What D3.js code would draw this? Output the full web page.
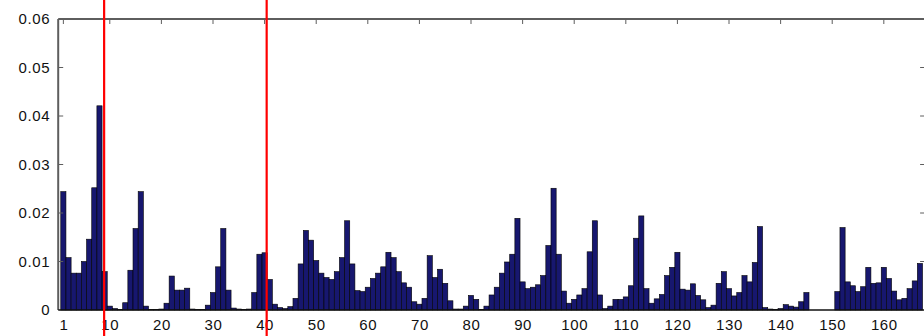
<!DOCTYPE html>
<html>
<head>
<meta charset="utf-8">
<script src="https://cdn.jsdelivr.net/npm/d3@7"></script>
<style>
  html, body { margin: 0; padding: 0; background: #fff; }
  svg { display: block; }
  text { font-family: "Liberation Sans", Arial, Helvetica, sans-serif; fill: #111; }
</style>
</head>
<body>
<svg id="chart" width="924" height="336"></svg>
<script>
// ---- data ----
const values = [
  0.0244, 0.0108, 0.0076, 0.0076, 0.0100, 0.0146, 0.0252, 0.0421, 0.0079, 0.0008,
  0.0003, 0.0001, 0.0015, 0.0082, 0.0168, 0.0244, 0.0008, 0.0001, 0.0001, 0.0002,
  0.0014, 0.0070, 0.0041, 0.0041, 0.0045, 0.0002, 0.0001, 0.0001, 0.0010, 0.0036,
  0.0089, 0.0168, 0.0041, 0.0004, 0.0002, 0.0001, 0.0002, 0.0036, 0.0115, 0.0118,
  0.0063, 0.0012, 0.0005, 0.0003, 0.0007, 0.0024, 0.0095, 0.0164, 0.0144, 0.0102,
  0.0076, 0.0067, 0.0063, 0.0079, 0.0108, 0.0184, 0.0095, 0.0040, 0.0038, 0.0047,
  0.0065, 0.0076, 0.0089, 0.0119, 0.0108, 0.0079, 0.0056, 0.0047, 0.0017, 0.0012,
  0.0024, 0.0112, 0.0067, 0.0084, 0.0055, 0.0019, 0.0002, 0.0002, 0.0008, 0.0030,
  0.0022, 0.0001, 0.0008, 0.0031, 0.0047, 0.0076, 0.0099, 0.0115, 0.0189, 0.0058,
  0.0044, 0.0047, 0.0052, 0.0071, 0.0133, 0.0251, 0.0115, 0.0039, 0.0014, 0.0022,
  0.0031, 0.0044, 0.0120, 0.0184, 0.0031, 0.0003, 0.0008, 0.0022, 0.0022, 0.0027,
  0.0050, 0.0148, 0.0194, 0.0044, 0.0014, 0.0023, 0.0032, 0.0071, 0.0088, 0.0119,
  0.0043, 0.0041, 0.0054, 0.0030, 0.0021, 0.0005, 0.0010, 0.0055, 0.0079, 0.0044,
  0.0029, 0.0036, 0.0071, 0.0058, 0.0098, 0.0172, 0.0005, 0.0002, 0.0001, 0.0003,
  0.0011, 0.0008, 0.0006, 0.0017, 0.0036, 0.0000, 0.0000, 0.0000, 0.0000, 0.0000,
  0.0038, 0.0170, 0.0058, 0.0050, 0.0038, 0.0048, 0.0088, 0.0055, 0.0056, 0.0088,
  0.0065, 0.0039, 0.0021, 0.0024, 0.0044, 0.0060, 0.0096
];
const xTicks = [1, 10, 20, 30, 40, 50, 60, 70, 80, 90, 100, 110, 120, 130, 140, 150, 160];
const yTicks = [0, 0.01, 0.02, 0.03, 0.04, 0.05, 0.06];
const markers = [8.9, 40.4];   // red vertical lines (x positions)
const xDomain = [0, 168];
const yDomain = [0, 0.06];

(function () {
  // ---- layout ----
  const W = 924, H = 336;
  const padL = 58.2, padR = 925.1, padT = 19, padB = 310;

  const svg = d3.select("#chart");
  const x = d3.scaleLinear().domain(xDomain).range([padL, padR]);
  const y = d3.scaleLinear().domain(yDomain).range([padB, padT]);

  const data = values.map((v, i) => ({ k: i + 1, v }));

  // bars
  svg.append("g")
    .selectAll("rect")
    .data(data)
    .join("rect")
    .attr("x", d => x(d.k - 0.5))
    .attr("width", d => x(d.k + 0.5) - x(d.k - 0.5))
    .attr("y", d => y(d.v))
    .attr("height", d => y(0) - y(d.v))
    .attr("fill", "#17176f")
    .attr("stroke", "#000")
    .attr("stroke-width", 0.6);

  // axes box lines
  const axisColor = "#5e5e5e";
  svg.append("line").attr("x1", padL).attr("x2", padR).attr("y1", padT).attr("y2", padT)
    .attr("stroke", axisColor).attr("stroke-width", 2);
  svg.append("line").attr("x1", padL).attr("x2", padL).attr("y1", padT).attr("y2", padB)
    .attr("stroke", axisColor).attr("stroke-width", 2);
  svg.append("line").attr("x1", padL).attr("x2", padR).attr("y1", padB).attr("y2", padB)
    .attr("stroke", "#111").attr("stroke-width", 1.5);

  // bottom axis labels
  const xAxis = d3.axisBottom(x).tickValues(xTicks).tickSize(0).tickPadding(9)
    .tickFormat(d3.format("d"));
  const gx = svg.append("g").attr("transform", `translate(0,${padB})`).call(xAxis);
  gx.select(".domain").remove();
  gx.selectAll("text").attr("font-size", 15).attr("letter-spacing", 0.6)
    .attr("font-family", "Liberation Sans, Arial, sans-serif").attr("fill", "#111");

  // top ticks (inward)
  svg.append("g").selectAll("line").data(xTicks).join("line")
    .attr("x1", d => x(d)).attr("x2", d => x(d))
    .attr("y1", padT).attr("y2", padT + 5)
    .attr("stroke", axisColor).attr("stroke-width", 1);

  // left axis
  const yAxis = d3.axisLeft(y).tickValues(yTicks).tickSize(0).tickPadding(8)
    .tickFormat(d => d === 0 ? "0" : d3.format(".2f")(d));
  const gy = svg.append("g").attr("transform", `translate(${padL},0)`).call(yAxis);
  gy.select(".domain").remove();
  gy.selectAll("text").attr("font-size", 15).attr("letter-spacing", 0.6)
    .attr("font-family", "Liberation Sans, Arial, sans-serif").attr("fill", "#111");

  // left & right inward y ticks
  const inner = yTicks.filter(d => d > 0 && d < 0.06);
  svg.append("g").selectAll("line").data(inner).join("line")
    .attr("x1", padL).attr("x2", padL + 5)
    .attr("y1", d => y(d)).attr("y2", d => y(d))
    .attr("stroke", axisColor).attr("stroke-width", 1);
  svg.append("g").selectAll("line").data(inner).join("line")
    .attr("x1", padR - 5).attr("x2", padR)
    .attr("y1", d => y(d)).attr("y2", d => y(d))
    .attr("stroke", axisColor).attr("stroke-width", 1);

  // red marker lines spanning full height
  svg.append("g").selectAll("line").data(markers).join("line")
    .attr("x1", d => x(d)).attr("x2", d => x(d))
    .attr("y1", 0).attr("y2", H)
    .attr("stroke", "#ff0000").attr("stroke-width", 2.2);
})();
</script>
</body>
</html>
